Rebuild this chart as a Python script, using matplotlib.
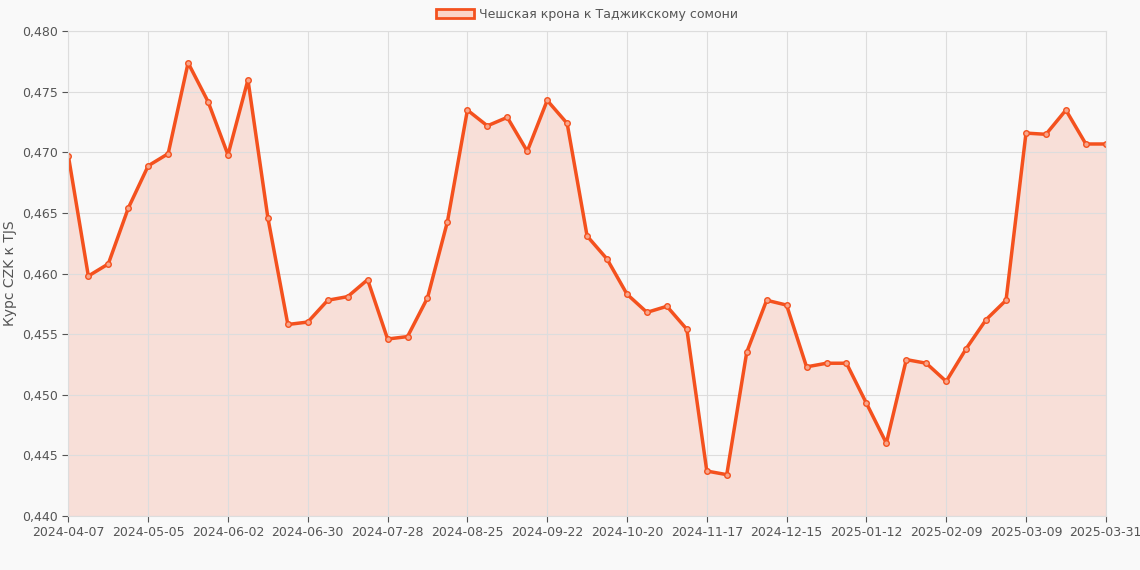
import matplotlib.pyplot as plt

values = [0.4697, 0.4598, 0.4608, 0.4654, 0.4689, 0.4699, 0.4774, 0.4742, 0.4698, 0.4760,
          0.4646, 0.4558, 0.4560, 0.4578, 0.4581, 0.4595, 0.4546, 0.4548, 0.4580, 0.4643,
          0.4735, 0.4722, 0.4729, 0.4701, 0.4743, 0.4724, 0.4631, 0.4612, 0.4583, 0.4568,
          0.4573, 0.4554, 0.4437, 0.4434, 0.4535, 0.4578, 0.4574, 0.4523, 0.4526, 0.4526,
          0.4493, 0.4460, 0.4529, 0.4526, 0.4511, 0.4538, 0.4562, 0.4578, 0.4716, 0.4715,
          0.4735, 0.4707, 0.4707]
tick_pos = [0, 4, 8, 12, 16, 20, 24, 28, 32, 36, 40, 44, 48, 52]
tick_labels = ["2024-04-07", "2024-05-05", "2024-06-02", "2024-06-30", "2024-07-28",
               "2024-08-25", "2024-09-22", "2024-10-20", "2024-11-17", "2024-12-15",
               "2025-01-12", "2025-02-09", "2025-03-09", "2025-03-31"]

line_color = "#f4511e"
x = list(range(len(values)))

fig = plt.figure(figsize=(11.4, 5.7), dpi=100, facecolor="#f9f9f9")
ax = fig.add_axes([0.06, 0.095, 0.91, 0.85])
ax.set_facecolor("#f9f9f9")
ax.fill_between(x, values, 0.44, color=line_color, alpha=0.15, linewidth=0)
ax.plot(x, values, color=line_color, linewidth=2.5, marker="o", markersize=4,
        markerfacecolor="#f8a58a", markeredgecolor=line_color, markeredgewidth=1)
ax.set_xlim(0, len(values) - 1)
ax.set_ylim(0.44, 0.48)
ax.set_xticks(tick_pos)
ax.set_xticklabels(tick_labels)
ax.set_yticks([0.44 + 0.005 * i for i in range(9)])
ax.set_yticklabels([f"{0.44 + 0.005 * i:.3f}".replace(".", ",") for i in range(9)])
ax.grid(True, color="#dddddd", linewidth=0.8)
ax.tick_params(colors="#555555", labelsize=9, length=4)
for s in ax.spines.values():
    s.set_color("#dddddd")
ax.set_ylabel("Курс CZK к TJS", color="#555555", fontsize=10)
handle = plt.Rectangle((0, 0), 1, 1, facecolor="#fbd5c7", edgecolor=line_color, linewidth=2)
ax.legend(handles=[handle], labels=["Чешская крона к Таджикскому сомони"], loc="center",
          bbox_to_anchor=(0.5, 1.035), frameon=False, fontsize=9, labelcolor="#555555",
          handlelength=3, handletextpad=0.4)
fig.savefig("out.png")
